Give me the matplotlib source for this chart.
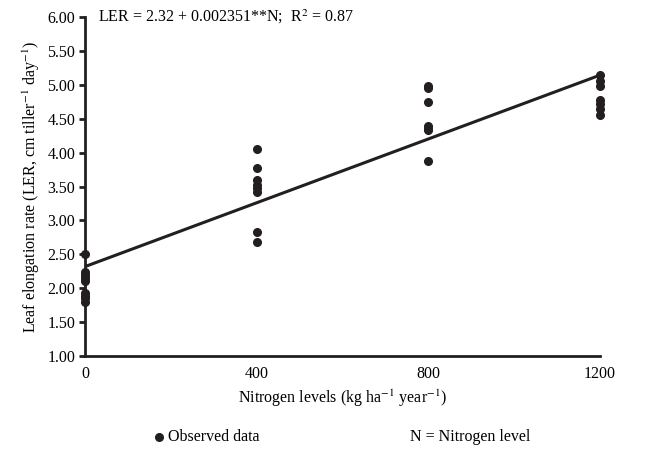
import matplotlib
matplotlib.use("Agg")
import matplotlib.pyplot as plt
import numpy as np

plt.rcParams['font.family'] = ['Liberation Serif', 'DejaVu Serif']
plt.rcParams['mathtext.fontset'] = 'stix'

# observed data (N level, LER)
n_0 = [2.50, 2.24, 2.20, 2.15, 2.10, 1.93, 1.88, 1.85, 1.80]
n_400 = [4.05, 3.78, 3.60, 3.52, 3.48, 3.42, 2.83, 2.68]
n_800 = [4.98, 4.95, 4.75, 4.40, 4.35, 4.33, 3.87]
n_1200 = [5.15, 5.05, 4.98, 4.77, 4.72, 4.65, 4.55]
niveles = [0, 400, 800, 1200]

# ajuste lineal
intercepto = 2.32
pendiente = 0.002351

ink = '#231f20'
fs = 11.5

fig = plt.figure(figsize=(6.7, 4.49), dpi=100)
ax = fig.add_axes([0.127, 0.207, 0.768, 0.755])

for nivel, valores in zip(niveles, [n_0, n_400, n_800, n_1200]):
    ax.plot([nivel] * len(valores), valores, 'o', color=ink, ms=5.5,
            mec=ink, clip_on=False, zorder=3)

x_fit = np.array([0, 1200])
ax.plot(x_fit, intercepto + pendiente * x_fit, color=ink, lw=2.2,
        solid_capstyle='butt', clip_on=False)

ax.set_xlim(0, 1200)
ax.set_ylim(1, 6)
ax.set_xticks(niveles)
ax.set_yticks(np.arange(1, 6.01, 0.5))
ax.set_yticklabels([f'{v:.2f}' for v in np.arange(1, 6.01, 0.5)])
for s in ['top', 'right']:
    ax.spines[s].set_visible(False)
for s in ['left', 'bottom']:
    ax.spines[s].set_linewidth(2)
    ax.spines[s].set_color(ink)
ax.tick_params(axis='y', direction='out', length=4, width=2, color=ink,
               labelsize=fs, pad=3)
ax.tick_params(axis='x', length=0, labelsize=fs, pad=7)

ax.set_ylabel('Leaf elongation rate (LER, cm tiller$^{-1}$ day$^{-1}$)',
              fontsize=fs, labelpad=4)
ax.set_xlabel('Nitrogen levels (kg ha$^{-1}$ year$^{-1}$)', fontsize=fs,
              labelpad=4)

ax.text(0.025, 1.0, 'LER = 2.32 + 0.002351**N;  R$^{2}$ = 0.87',
        transform=ax.transAxes, ha='left', va='center', fontsize=fs)

# leyenda inferior
fig.add_artist(plt.Line2D([0.238], [0.027], marker='o', ms=5.5, color=ink,
                          transform=fig.transFigure))
fig.text(0.25, 0.027, 'Observed data', ha='left', va='center',
         fontsize=fs)
fig.text(0.612, 0.027, 'N = Nitrogen level', ha='left', va='center',
         fontsize=fs)

fig.savefig('out.png', dpi=100)
